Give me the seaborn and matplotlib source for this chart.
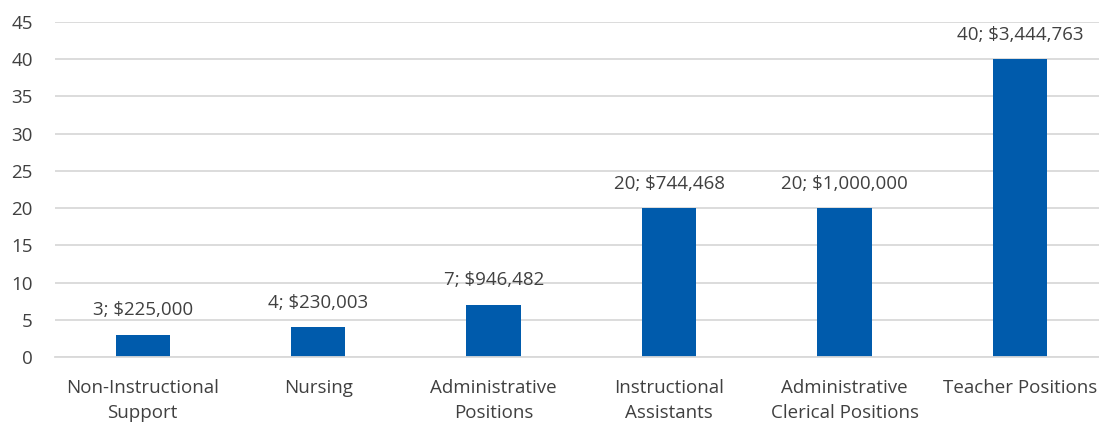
import matplotlib
matplotlib.use("Agg")
import matplotlib.pyplot as plt
import seaborn as sns
import pandas as pd

categories = ["Non-Instructional\nSupport", "Nursing", "Administrative\nPositions",
              "Instructional\nAssistants", "Administrative\nClerical Positions", "Teacher Positions"]
counts = [3, 4, 7, 20, 20, 40]
amounts = ["$225,000", "$230,003", "$946,482", "$744,468", "$1,000,000", "$3,444,763"]

sns.set_theme(style="white")
plt.rcParams['font.family'] = ['Open Sans', 'DejaVu Sans']

df = pd.DataFrame({"cat": categories, "n": counts})

fig = plt.figure(figsize=(10.99, 4.24), dpi=100)
ax = fig.add_axes([55/1099, 67/424, 1044/1099, 335/424])

sns.barplot(data=df, x="cat", y="n", color="#005BAC", width=0.31, saturation=1,
            edgecolor="none", ax=ax)

text_color = "#404040"
fs = 13.5
for i, (c, a) in enumerate(zip(counts, amounts)):
    ax.annotate(f"{c}; {a}", xy=(i, c), xytext=(0, 14), textcoords="offset points",
                ha="center", va="baseline", fontsize=fs, color=text_color)

ax.set_ylim(0, 45)
ax.set_xlim(-0.5, 5.45)
ax.set_yticks(range(0, 46, 5))
ax.yaxis.grid(True, color="#d9d9d9", linewidth=1.3)
ax.set_axisbelow(True)
for s in ["top", "right", "left"]:
    ax.spines[s].set_visible(False)
ax.spines["bottom"].set_color("#d9d9d9")
ax.spines["bottom"].set_linewidth(1.3)
ax.set_xlabel("")
ax.set_ylabel("")
ax.tick_params(axis="y", length=0, pad=16, labelsize=fs, labelcolor=text_color)
ax.tick_params(axis="x", length=0, pad=16, labelsize=fs, labelcolor=text_color)
for lbl in ax.get_xticklabels():
    lbl.set_linespacing(1.5)

fig.savefig("out.png", dpi=100)
